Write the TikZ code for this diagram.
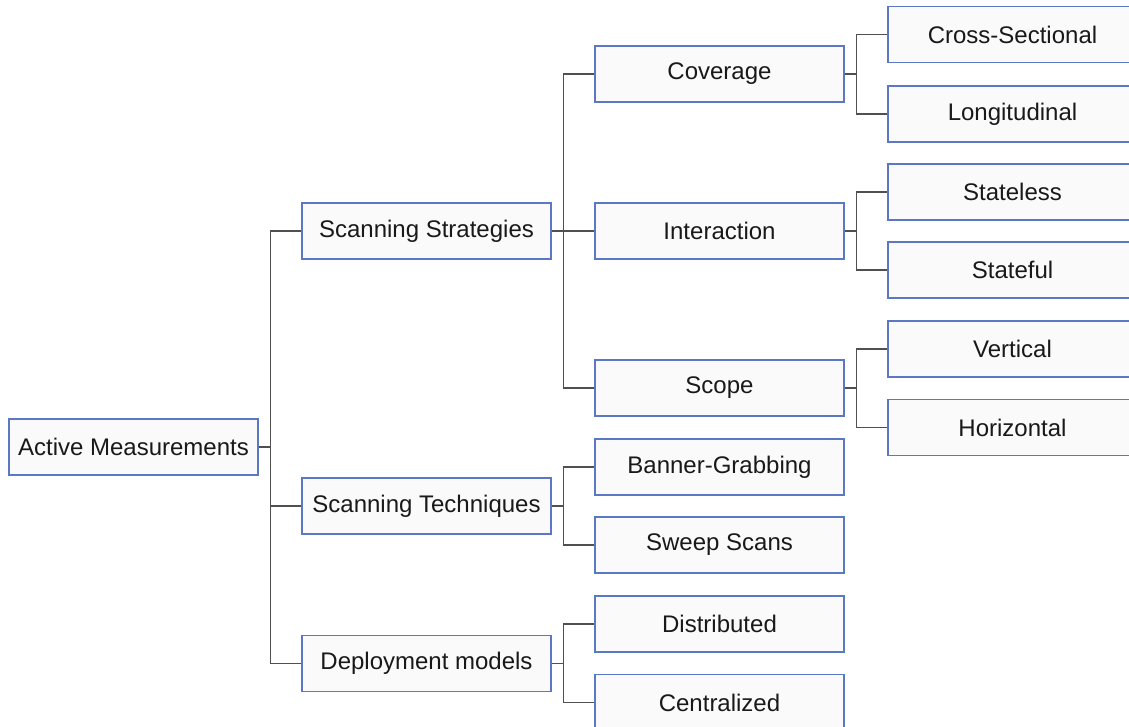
\documentclass[tikz,border=0pt]{standalone}
\usepackage{fontspec}
\setmainfont{Liberation Sans}
\definecolor{boxborder}{RGB}{92,120,196}
\definecolor{boxfill}{RGB}{250,250,250}
\definecolor{linkcol}{RGB}{80,80,80}
\definecolor{textcol}{RGB}{25,25,25}
\tikzset{
  tbox/.style={draw=boxborder, fill=boxfill, line width=1.1pt, minimum width=249pt, minimum height=56pt, inner sep=0pt, text=textcol, font=\fontsize{24}{28}\selectfont},
  link/.style={draw=linkcol, line width=1.2pt}
}
\begin{document}
\begin{tikzpicture}[x=1pt,y=-1pt]
\useasboundingbox (0,0) rectangle (1129,726);
\clip (0,0) rectangle (1129,726);
% root
\node[tbox] (am) at (133.5,447) {Active Measurements};
% level 1
\node[tbox] (ss) at (426.5,231) {Scanning Strategies};
\node[tbox] (st) at (426.5,506) {Scanning Techniques};
\node[tbox] (dm) at (426.5,663.5) {Deployment models};
% level 2
\node[tbox] (cov) at (719.5,74) {Coverage};
\node[tbox] (int) at (719.5,231) {Interaction};
\node[tbox] (sco) at (719.5,388) {Scope};
\node[tbox] (bg) at (719.5,467) {Banner-Grabbing};
\node[tbox] (sw) at (719.5,545) {Sweep Scans};
\node[tbox] (dis) at (719.5,624) {Distributed};
\node[tbox] (cen) at (719.5,702.5) {Centralized};
% level 3
\node[tbox] (cs) at (1012.5,34.5) {Cross-Sectional};
\node[tbox] (lo) at (1012.5,114) {Longitudinal};
\node[tbox] (sl) at (1012.5,192) {Stateless};
\node[tbox] (sf) at (1012.5,270) {Stateful};
\node[tbox] (ve) at (1012.5,349) {Vertical};
\node[tbox] (ho) at (1012.5,427.5) {Horizontal};
% connectors
\foreach \p/\c in {am/ss, am/st, am/dm,
                   ss/cov, ss/int, ss/sco,
                   st/bg, st/sw,
                   dm/dis, dm/cen,
                   cov/cs, cov/lo,
                   int/sl, int/sf,
                   sco/ve, sco/ho}{
  \draw[link] (\p.east) -- ++(12,0) |- (\c.west);
}
\end{tikzpicture}
\end{document}
